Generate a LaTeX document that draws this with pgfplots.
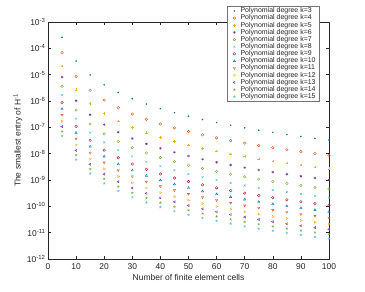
\documentclass[border=0pt]{standalone}
\usepackage{pgfplots}
\pgfplotsset{compat=1.18}
\usepackage{pgfplotstable}
\usepackage{fontspec}
\setmainfont{Liberation Sans}
\definecolor{mblue}{RGB}{0,114,189}
\definecolor{morange}{RGB}{217,83,25}
\definecolor{myellow}{RGB}{237,177,32}
\definecolor{mpurple}{RGB}{126,47,142}
\definecolor{mgreen}{RGB}{119,172,48}
\definecolor{mlblue}{RGB}{77,190,238}
\definecolor{mred}{RGB}{162,20,47}
\definecolor{axgray}{RGB}{38,38,38}
\pgfplotstableread{
N k3 k4 k5 k6 k7 k8 k9 k10 k11 k12 k13 k14 k15
5 2.63e-4 6.92e-5 2.14e-5 8.13e-6 3.63e-6 1.70e-6 8.71e-7 5.01e-7 2.95e-7 1.70e-7 1.07e-7 7.08e-8 4.79e-8
10 3.29e-5 8.65e-6 2.68e-6 1.02e-6 4.54e-7 2.13e-7 1.09e-7 6.26e-8 3.69e-8 2.13e-8 1.34e-8 8.85e-9 5.99e-9
15 9.74e-6 2.56e-6 7.93e-7 3.01e-7 1.34e-7 6.30e-8 3.23e-8 1.86e-8 1.09e-8 6.30e-9 3.96e-9 2.62e-9 1.77e-9
20 4.11e-6 1.08e-6 3.34e-7 1.27e-7 5.67e-8 2.66e-8 1.36e-8 7.83e-9 4.61e-9 2.66e-9 1.67e-9 1.11e-9 7.48e-10
25 2.10e-6 5.54e-7 1.71e-7 6.50e-8 2.90e-8 1.36e-8 6.97e-9 4.01e-9 2.36e-9 1.36e-9 8.56e-10 5.66e-10 3.83e-10
30 1.22e-6 3.20e-7 9.91e-8 3.76e-8 1.68e-8 7.87e-9 4.03e-9 2.32e-9 1.37e-9 7.87e-10 4.95e-10 3.28e-10 2.22e-10
35 7.67e-7 2.02e-7 6.24e-8 2.37e-8 1.06e-8 4.96e-9 2.54e-9 1.46e-9 8.60e-10 4.96e-10 3.12e-10 2.06e-10 1.40e-10
40 5.14e-7 1.35e-7 4.18e-8 1.59e-8 7.09e-9 3.32e-9 1.70e-9 9.79e-10 5.76e-10 3.32e-10 2.09e-10 1.38e-10 9.36e-11
45 3.61e-7 9.49e-8 2.94e-8 1.12e-8 4.98e-9 2.33e-9 1.19e-9 6.87e-10 4.05e-10 2.33e-10 1.47e-10 9.71e-11 6.57e-11
50 2.63e-7 6.92e-8 2.14e-8 8.13e-9 3.63e-9 1.70e-9 8.71e-10 5.01e-10 2.95e-10 1.70e-10 1.07e-10 7.08e-11 4.79e-11
55 1.98e-7 5.20e-8 1.61e-8 6.11e-9 2.73e-9 1.28e-9 6.54e-10 3.76e-10 2.22e-10 1.28e-10 8.04e-11 5.32e-11 3.60e-11
60 1.52e-7 4.00e-8 1.24e-8 4.70e-9 2.10e-9 9.84e-10 5.04e-10 2.90e-10 1.71e-10 9.84e-11 6.19e-11 4.10e-11 2.77e-11
65 1.20e-7 3.15e-8 9.74e-9 3.70e-9 1.65e-9 7.74e-10 3.96e-10 2.28e-10 1.34e-10 7.74e-11 4.87e-11 3.22e-11 2.18e-11
70 9.58e-8 2.52e-8 7.80e-9 2.96e-9 1.32e-9 6.20e-10 3.17e-10 1.83e-10 1.08e-10 6.20e-11 3.90e-11 2.58e-11 1.75e-11
75 7.79e-8 2.05e-8 6.34e-9 2.41e-9 1.08e-9 5.04e-10 2.58e-10 1.48e-10 8.74e-11 5.04e-11 3.17e-11 2.10e-11 1.42e-11
80 6.42e-8 1.69e-8 5.22e-9 1.98e-9 8.86e-10 4.15e-10 2.13e-10 1.22e-10 7.20e-11 4.15e-11 2.61e-11 1.73e-11 1.17e-11
85 5.35e-8 1.41e-8 4.36e-9 1.65e-9 7.39e-10 3.46e-10 1.77e-10 1.02e-10 6.00e-11 3.46e-11 2.18e-11 1.44e-11 9.75e-12
90 4.51e-8 1.19e-8 3.67e-9 1.39e-9 6.22e-10 2.92e-10 1.49e-10 8.59e-11 5.06e-11 2.92e-11 1.83e-11 1.21e-11 8.21e-12
95 3.83e-8 1.01e-8 3.12e-9 1.19e-9 5.29e-10 2.48e-10 1.27e-10 7.30e-11 4.30e-11 2.48e-11 1.56e-11 1.03e-11 6.98e-12
100 3.29e-8 8.65e-9 2.68e-9 1.02e-9 4.54e-10 2.13e-10 1.09e-10 6.26e-11 3.69e-11 2.13e-11 1.34e-11 8.85e-12 5.99e-12
}\data
\begin{document}
\begin{tikzpicture}
\begin{axis}[
  name=ax,
  at={(0,0)}, anchor=south west,
  scale only axis,
  width=281bp, height=237bp,
  ymode=log, log basis y=10,
  xmin=0, xmax=100, ymin=1e-12, ymax=1e-3,
  xtick={0,10,...,100},
  ytick={1e-12,1e-11,1e-10,1e-9,1e-8,1e-7,1e-6,1e-5,1e-4,1e-3},
  yticklabels={10\textsuperscript{-12},10\textsuperscript{-11},10\textsuperscript{-10},10\textsuperscript{-9},10\textsuperscript{-8},10\textsuperscript{-7},10\textsuperscript{-6},10\textsuperscript{-5},10\textsuperscript{-4},10\textsuperscript{-3}},
  /pgf/number format/assume math mode=true,
  tick label style={font=\fontsize{8.5}{9}\selectfont, text=axgray},
  xticklabel style={yshift=-1bp},
  yticklabel style={xshift=1bp},
  axis line style={axgray, line width=0.5pt},
  major tick style={axgray, line width=0.5pt},
  minor tick style={axgray, line width=0.4pt},
  major tick length=3bp, minor tick length=1.8bp,
  tick align=inside,
  xlabel={Number of finite element cells},
  ylabel={The smallest entry of H\textsuperscript{-1}},
  label style={font=\fontsize{8.5}{9}\selectfont, text=axgray},
  xlabel style={at={(axis description cs:0.5,-0.076)}, anchor=center},
  ylabel style={at={(axis description cs:-0.107,0.5)}, anchor=center, rotate=0},
  legend style={at={(0.9655,1.0675)}, anchor=north east, font=\fontsize{7}{7.5}\selectfont,
    draw=black!55, line width=0.4pt, inner xsep=2bp, inner ysep=1.2bp, row sep=0pt,
    nodes={inner xsep=1.5bp, inner ysep=0.3bp}, text=axgray, fill=white},
  legend cell align=left,
  legend image code/.code={\path (0bp,0bp) (9bp,0bp); \draw[#1] plot coordinates {(4.5bp,0bp)};},
  every axis plot/.append style={only marks, mark size=1.3pt, line width=0.4pt},
]
\addplot[mblue, mark=*, mark size=0.55pt] table[x=N,y=k3]{\data};
\addlegendentry{Polynomial degree k=3}
\addplot[morange, mark=o] table[x=N,y=k4]{\data};
\addlegendentry{Polynomial degree k=4}
\addplot[myellow, mark=+] table[x=N,y=k5]{\data};
\addlegendentry{Polynomial degree k=5}
\addplot[mpurple, mark=asterisk] table[x=N,y=k6]{\data};
\addlegendentry{Polynomial degree k=6}
\addplot[mgreen, mark=o] table[x=N,y=k7]{\data};
\addlegendentry{Polynomial degree k=7}
\addplot[mlblue, mark=x] table[x=N,y=k8]{\data};
\addlegendentry{Polynomial degree k=8}
\addplot[mred, mark=o] table[x=N,y=k9]{\data};
\addlegendentry{Polynomial degree k=9}
\addplot[mblue, mark=triangle] table[x=N,y=k10]{\data};
\addlegendentry{Polynomial degree k=10}
\addplot[morange, mark=triangle, mark options={rotate=180}] table[x=N,y=k11]{\data};
\addlegendentry{Polynomial degree k=11}
\addplot[myellow, mark=triangle, mark options={rotate=-90}] table[x=N,y=k12]{\data};
\addlegendentry{Polynomial degree k=12}
\addplot[mpurple, mark=triangle, mark options={rotate=90}] table[x=N,y=k13]{\data};
\addlegendentry{Polynomial degree k=13}
\addplot[mgreen, mark=star] table[x=N,y=k14]{\data};
\addlegendentry{Polynomial degree k=14}
\addplot[mlblue, mark=star] table[x=N,y=k15]{\data};
\addlegendentry{Polynomial degree k=15}
\end{axis}
\pgfresetboundingbox
\useasboundingbox ([xshift=-48bp,yshift=-33bp]ax.south west) rectangle ([xshift=36bp,yshift=22bp]ax.north east);
\end{tikzpicture}
\end{document}
